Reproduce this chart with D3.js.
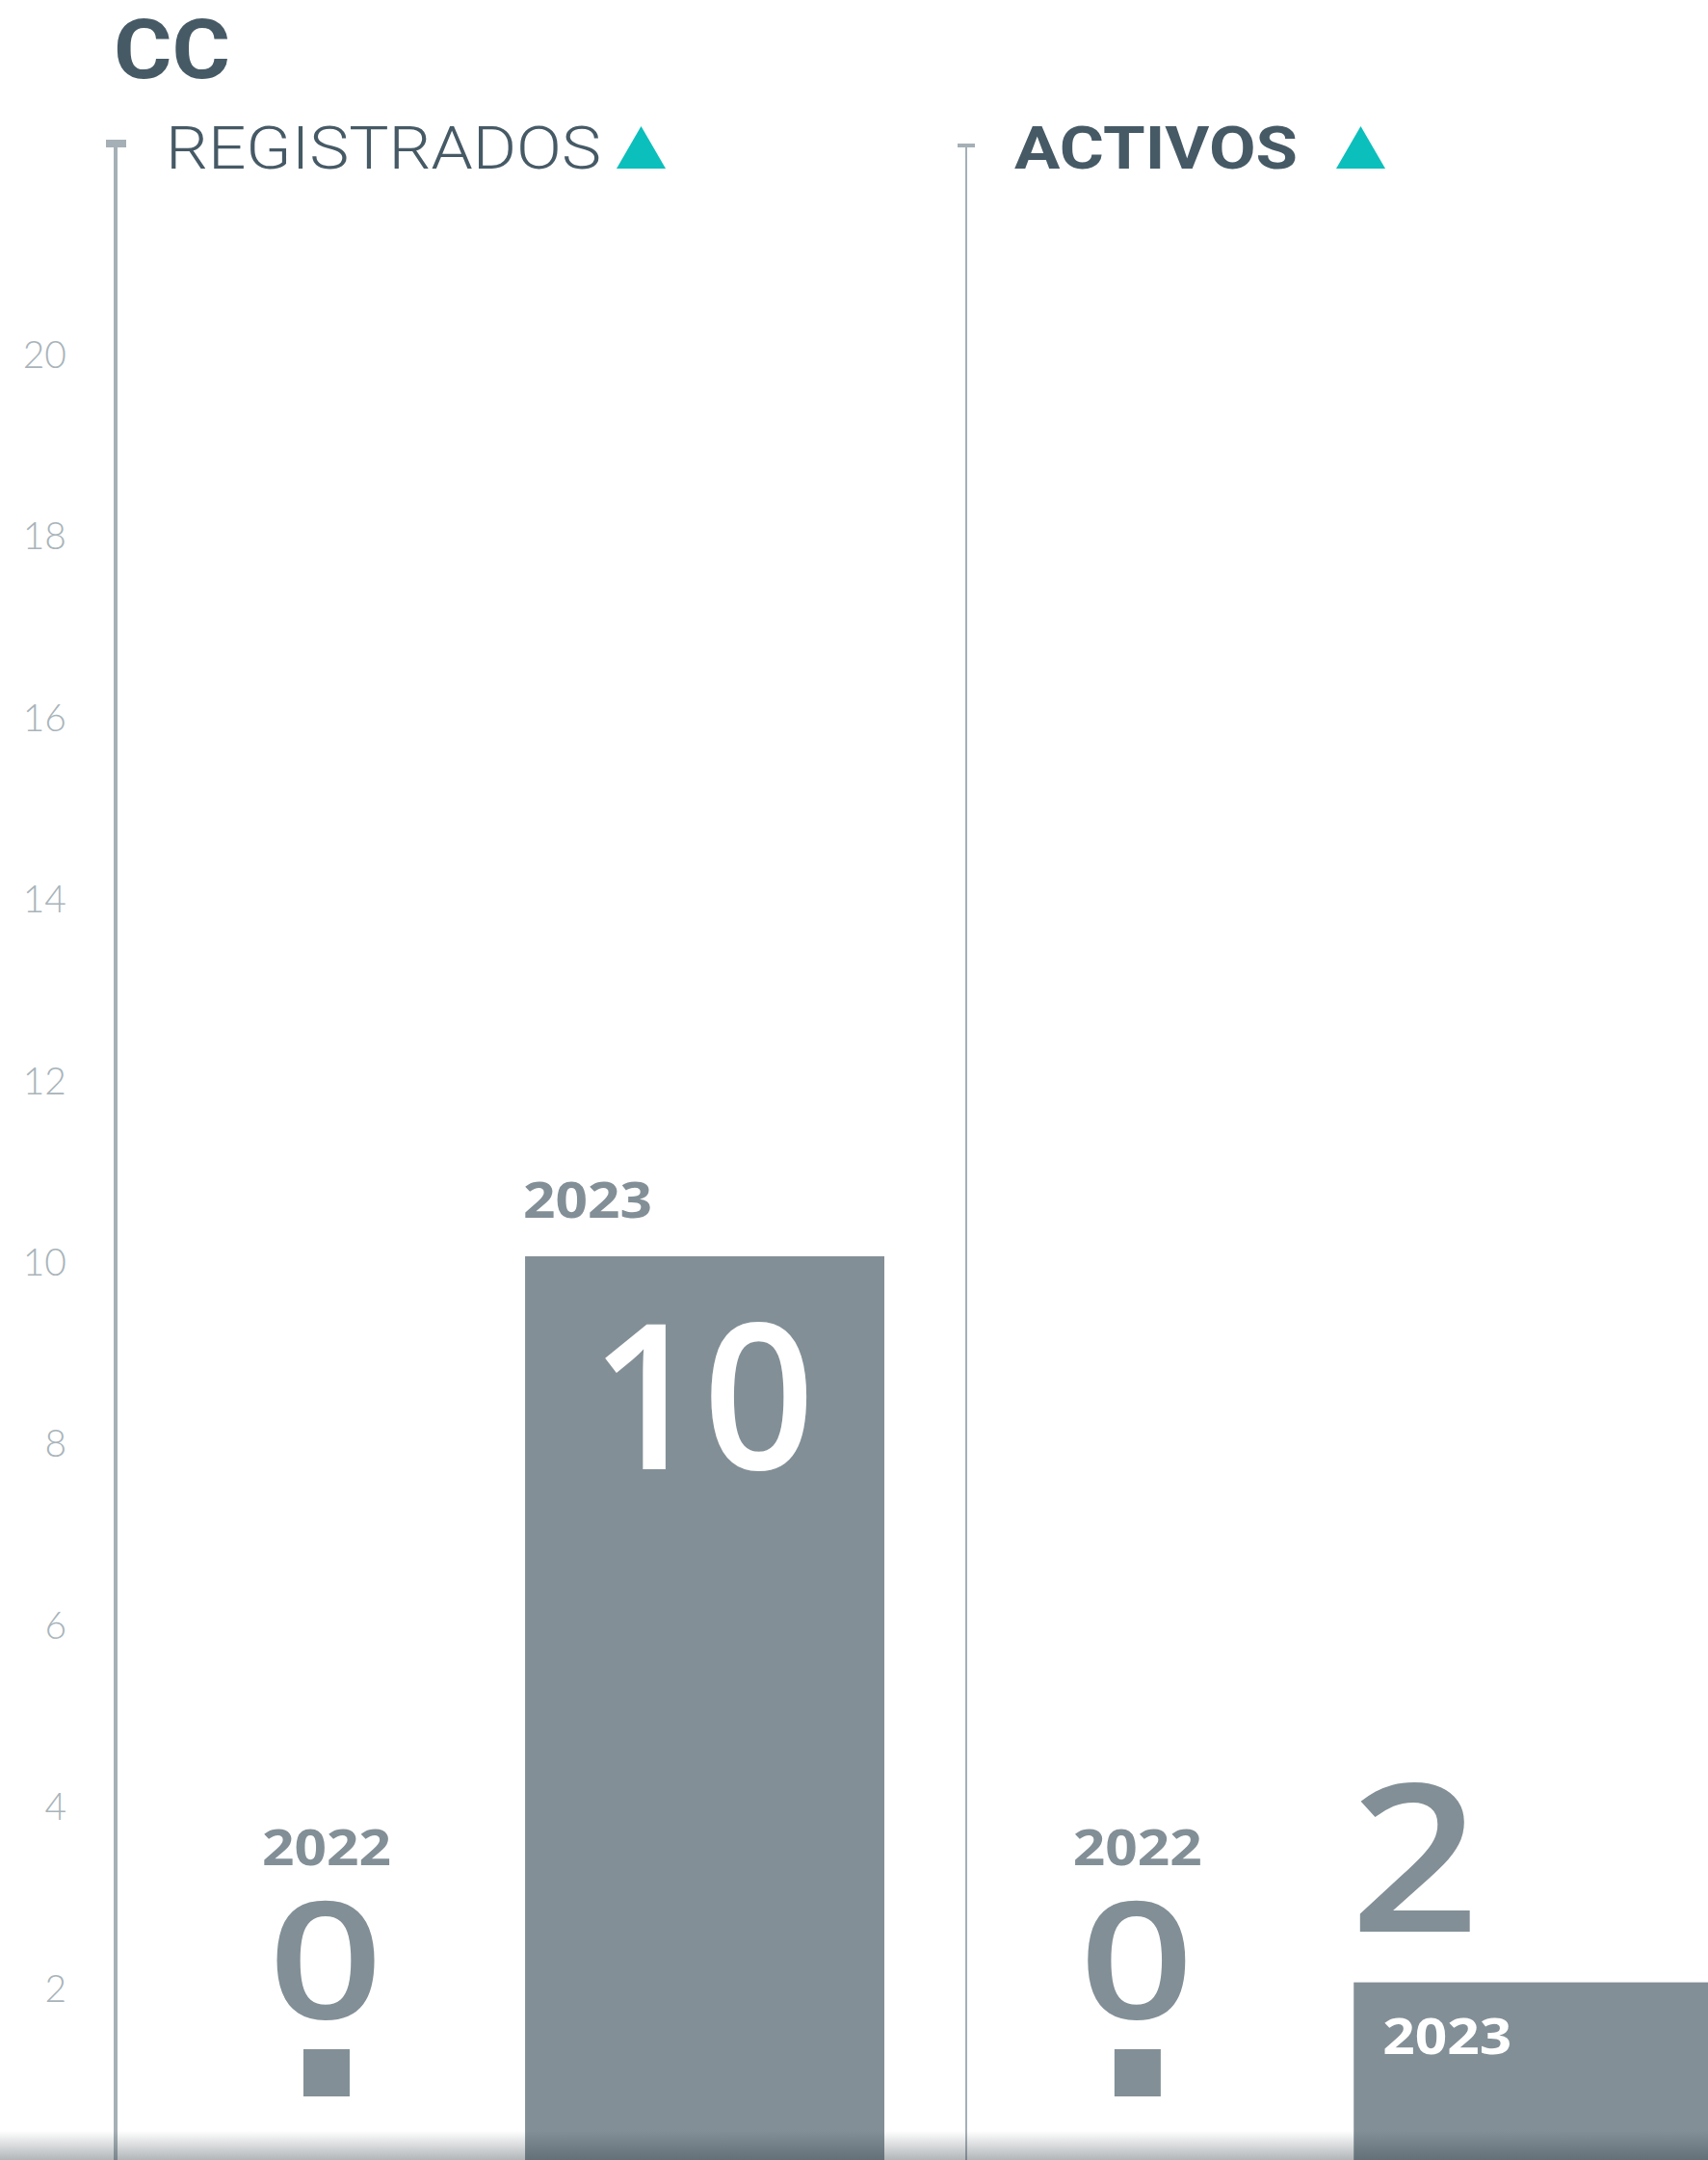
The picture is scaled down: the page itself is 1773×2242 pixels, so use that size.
<!DOCTYPE html>
<html>
<head>
<meta charset="utf-8">
<script src="https://cdn.jsdelivr.net/npm/d3@7"></script>
<style>
  html, body { margin: 0; padding: 0; background: #ffffff; }
  svg { display: block; }
</style>
</head>
<body>
<div id="chart"></div>
<script>
// ---------- data ----------
const title = "CC";
const panelTitles = ["REGISTRADOS", "ACTIVOS"];
const years = ["2022", "2023"];
const registrados = [0, 10];
const activos = [0, 2];
const yTickValues = [2, 4, 6, 8, 10, 12, 14, 16, 18, 20];

// ---------- setup ----------
const W = 1773, H = 2242;
const BAR = "#828f96", DARK = "#465a66", TEAL = "#0bbfbc", AXIS = "#a5b0b6", TICK = "#a9b4ba";

const svg = d3.select("#chart").append("svg").attr("width", W).attr("height", H);

const defs = svg.append("defs");
const grad = defs.append("linearGradient").attr("id", "shade")
  .attr("x1", 0).attr("y1", 0).attr("x2", 0).attr("y2", 1);
grad.append("stop").attr("offset", "0%").attr("stop-color", "#323e46").attr("stop-opacity", 0);
grad.append("stop").attr("offset", "100%").attr("stop-color", "#323e46").attr("stop-opacity", 0.38);

const y = d3.scaleLinear().domain([0, 20]).range([2246, 2246 - 20 * 94.2]);

const xScales = [
  d3.scaleBand().domain(years).range([152.5, 918]).paddingInner(0.05),
  d3.scaleBand().domain(years).range([994.5, 1778]).paddingInner(0.0925)
];
const panelData = [registrados, activos];

// ---------- title ----------
svg.append("text").attr("x", 118).attr("y", 81)
  .attr("font-family", "Roboto, 'DejaVu Sans', sans-serif").attr("font-weight", 700)
  .attr("font-size", 86).attr("fill", DARK)
  .attr("textLength", 121).attr("lengthAdjust", "spacingAndGlyphs")
  .text(title);

// panel headers
const headerCfg = [
  { x: 172, len: 452, weight: 300, tri: 640 },
  { x: 1053, len: 294, weight: 700, tri: 1387 }
];
panelTitles.forEach((t, i) => {
  const c = headerCfg[i];
  svg.append("text").attr("x", c.x).attr("y", 175)
    .attr("font-family", "Roboto, 'DejaVu Sans', sans-serif").attr("font-weight", c.weight)
    .attr("font-size", 61).attr("fill", DARK)
    .attr("textLength", c.len).attr("lengthAdjust", "spacingAndGlyphs")
    .text(t);
  svg.append("path")
    .attr("d", d3.line()([[c.tri, 175], [c.tri + 51, 175], [c.tri + 25.5, 131]]) + "Z")
    .attr("fill", TEAL);
});

// ---------- axes ----------
const axisG = svg.append("g").attr("transform", "translate(120,0)")
  .call(d3.axisLeft(y).tickValues(yTickValues).tickSize(0).tickPadding(51));
axisG.select(".domain").remove();
axisG.selectAll("text")
  .attr("font-family", "Lato, 'Open Sans', sans-serif").attr("font-weight", 300)
  .attr("font-size", 39).attr("fill", TICK)
  .attr("transform", "translate(0,7)");

svg.append("line").attr("x1", 120).attr("x2", 120).attr("y1", 150).attr("y2", H)
  .attr("stroke", AXIS).attr("stroke-width", 4);
svg.append("rect").attr("x", 110).attr("y", 145).attr("width", 21).attr("height", 8).attr("fill", AXIS);

svg.append("line").attr("x1", 1003).attr("x2", 1003).attr("y1", 151).attr("y2", H)
  .attr("stroke", AXIS).attr("stroke-width", 2);
svg.append("rect").attr("x", 994).attr("y", 149).attr("width", 18).attr("height", 4).attr("fill", AXIS);

// ---------- bars & labels ----------
const NUMFONT = "'Open Sans', 'Noto Sans', sans-serif";
panelData.forEach((vals, p) => {
  const x = xScales[p];
  const g = svg.append("g");
  vals.forEach((v, i) => {
    const yr = years[i];
    const x0 = x(yr), bw = x.bandwidth(), cx = x0 + bw / 2;
    if (v === 0) {
      g.append("rect").attr("x", cx - 24).attr("y", y(0) - 119).attr("width", 48).attr("height", 49).attr("fill", BAR);
      g.append("text").attr("transform", `translate(${cx - 1},${y(0) - 151}) scale(1.24,1)`)
        .attr("text-anchor", "middle").attr("font-family", NUMFONT).attr("font-weight", 600)
        .attr("font-size", 168).attr("fill", BAR).text(v);
      g.append("text").attr("x", cx - 67).attr("y", y(0) - 310)
        .attr("font-family", NUMFONT).attr("font-weight", 700).attr("font-size", 52).attr("fill", BAR)
        .attr("textLength", 134).attr("lengthAdjust", "spacingAndGlyphs").text(yr);
    } else {
      g.append("rect").attr("x", x0).attr("y", y(v)).attr("width", bw).attr("height", y(0) - y(v)).attr("fill", BAR);
      if (y(0) - y(v) > 400) {
        g.append("text").attr("x", x0 - 2).attr("y", y(v) - 40)
          .attr("font-family", NUMFONT).attr("font-weight", 700).attr("font-size", 52).attr("fill", BAR)
          .attr("textLength", 134).attr("lengthAdjust", "spacingAndGlyphs").text(yr);
        g.append("text").attr("transform", `translate(${cx - 2},${y(v) + 221}) scale(0.97,1)`)
          .attr("text-anchor", "middle").attr("font-family", NUMFONT).attr("font-weight", 600)
          .attr("font-size", 210).attr("fill", "#ffffff").text(v);
      } else {
        g.append("text").attr("transform", `translate(${x0 - 4},${y(v) - 53}) scale(1.1,1)`)
          .attr("font-family", NUMFONT).attr("font-weight", 600)
          .attr("font-size", 214).attr("fill", BAR).text(v);
        g.append("text").attr("x", x0 + 30).attr("y", y(v) + 74)
          .attr("font-family", NUMFONT).attr("font-weight", 700).attr("font-size", 52).attr("fill", "#ffffff")
          .attr("textLength", 134).attr("lengthAdjust", "spacingAndGlyphs").text(yr);
      }
    }
  });
});

svg.append("rect").attr("x", 0).attr("y", 2212).attr("width", W).attr("height", 30).attr("fill", "url(#shade)");
</script>
</body>
</html>
